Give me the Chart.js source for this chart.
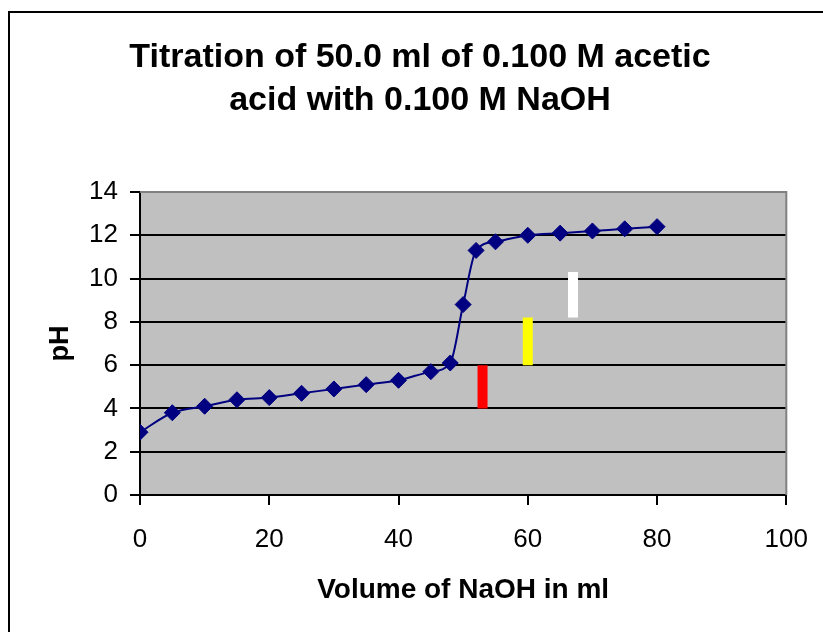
<!DOCTYPE html>
<html>
<head>
<meta charset="utf-8">
<script src="https://cdn.jsdelivr.net/npm/chart.js@4.4.1/dist/chart.umd.min.js"></script>
<style>
  html, body { margin: 0; padding: 0; background: #fff; overflow: hidden; }
  #wrap { position: relative; width: 823px; height: 632px; }
</style>
</head>
<body>
<div id="wrap"><canvas id="titrationChart" width="823" height="632"></canvas></div>
<script>
// volume of NaOH added (ml) and measured pH
const volumes = [0, 5, 10, 15, 20, 25, 30, 35, 40, 45, 48, 50, 52, 55, 60, 65, 70, 75, 80];
const phValues = [2.9, 3.8, 4.1, 4.4, 4.5, 4.7, 4.9, 5.1, 5.3, 5.7, 6.1, 8.8, 11.3, 11.7, 12.0, 12.1, 12.2, 12.3, 12.4];

// indicator colour-change ranges: x position, low pH, high pH
const indicatorNames = ["Methyl red", "Bromothymol blue", "Phenolphthalein"];
const indicatorX = [53, 60, 67];
const indicatorLow = [4.0, 6.0, 8.2];
const indicatorHigh = [6.0, 8.2, 10.3];
const indicatorColors = ["#ff0000", "#ffff00", "#ffffff"];

const titleLines = ["Titration of 50.0 ml of 0.100 M acetic", "acid with 0.100 M NaOH"];

document.addEventListener("DOMContentLoaded", function () {
  const ctx = document.getElementById("titrationChart").getContext("2d");

  const curve = {
    label: "pH",
    type: "line",
    data: volumes.map((v, i) => ({ x: v, y: phValues[i] })),
    borderColor: "#000080",
    backgroundColor: "#000080",
    borderWidth: 2,
    cubicInterpolationMode: "monotone",
    pointStyle: "rectRot",
    pointRadius: 8,
    pointBorderWidth: 1,
    pointHoverRadius: 8,
    order: 0,
  };

  const indicators = indicatorX.map((x, i) => ({
    label: indicatorNames[i],
    type: "line",
    data: [
      { x: x, y: indicatorLow[i] },
      { x: x, y: indicatorHigh[i] },
    ],
    borderColor: indicatorColors[i],
    borderWidth: 10,
    borderCapStyle: "butt",
    pointRadius: 0,
    order: 1,
  }));

  // grey plot area, grey top/right edge, outer frame
  const backdrop = {
    id: "backdrop",
    beforeDraw(chart) {
      const { ctx, chartArea: a } = chart;
      ctx.save();
      ctx.fillStyle = "#c0c0c0";
      ctx.fillRect(a.left, a.top, a.right - a.left, a.bottom - a.top);
      ctx.restore();
    },
    afterDraw(chart) {
      const { ctx, chartArea: a } = chart;
      ctx.save();
      ctx.strokeStyle = "#808080";
      ctx.lineWidth = 2;
      ctx.beginPath();
      ctx.moveTo(a.left, a.top);
      ctx.lineTo(a.right, a.top);
      ctx.lineTo(a.right, a.bottom);
      ctx.stroke();
      ctx.strokeStyle = "#000";
      ctx.beginPath();
      ctx.moveTo(9, 700);
      ctx.lineTo(9, 12);
      ctx.lineTo(900, 12);
      ctx.stroke();
      ctx.restore();
    },
  };

  const config = {
    type: "line",
    data: { datasets: [curve, ...indicators] },
    plugins: [backdrop],
    options: {
      responsive: false,
      animation: false,
      layout: { padding: { left: 50, right: 33, top: 0, bottom: 0 } },
      plugins: {
        legend: { display: false },
        tooltip: { enabled: false },
        title: {
          display: true,
          text: titleLines,
          color: "#000",
          font: { family: "Liberation Sans, Arial, sans-serif", size: 34, weight: "bold", lineHeight: 1.265 },
          padding: { top: 36, bottom: 70 },
        },
      },
      scales: {
        x: {
          type: "linear",
          position: "bottom",
          min: 0,
          max: 100,
          afterFit(scale) { scale.height = 137; },
          ticks: {
            stepSize: 20,
            color: "#000",
            padding: 15,
            font: { family: "Liberation Sans, Arial, sans-serif", size: 26, lineHeight: 1.5 },
          },
          grid: { drawOnChartArea: false, color: "#000", tickColor: "#000", tickLength: 10, lineWidth: 2 },
          border: { color: "#000", width: 2 },
          title: {
            display: true,
            text: "Volume of NaOH in ml",
            color: "#000",
            font: { family: "Liberation Sans, Arial, sans-serif", size: 28, weight: "bold", lineHeight: 1.2 },
            padding: { bottom: 25 },
          },
        },
        y: {
          min: 0,
          max: 14,
          afterFit(scale) { scale.width = 90; },
          ticks: {
            stepSize: 2,
            color: "#000",
            padding: 12,
            font: { family: "Liberation Sans, Arial, sans-serif", size: 26 },
          },
          grid: {
            color: (c) => (c.tick && c.tick.value === 14 ? "#808080" : "#000"),
            tickColor: "#000",
            tickLength: 10,
            lineWidth: 2,
          },
          border: { color: "#000", width: 2 },
          title: {
            display: true,
            text: "pH",
            color: "#000",
            font: { family: "Liberation Sans, Arial, sans-serif", size: 27, weight: "bold", lineHeight: 0.6 },
            padding: { top: 2 },
          },
        },
      },
    },
  };

  new Chart(ctx, config);
});
</script>
</body>
</html>
